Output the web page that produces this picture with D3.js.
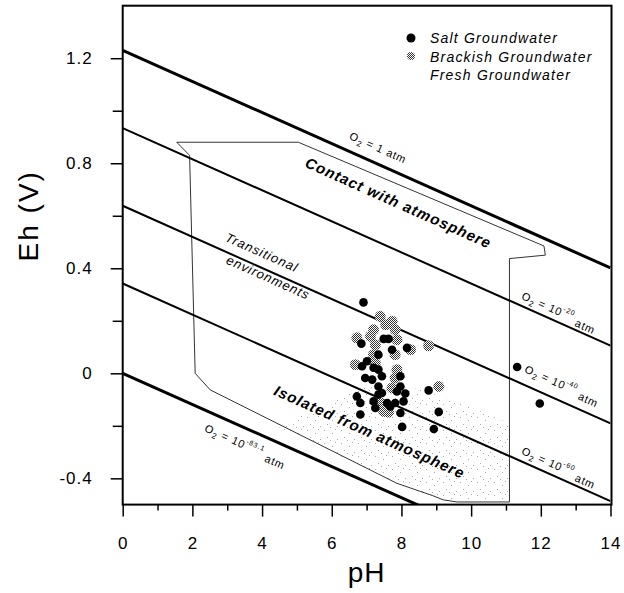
<!DOCTYPE html>
<html>
<head>
<meta charset="utf-8">
<script src="https://cdn.jsdelivr.net/npm/d3@7"></script>
<style>
  body { margin: 0; background: #fff; }
  text { font-family: Arial, "Liberation Sans", sans-serif; fill: #000; }
</style>
</head>
<body>
<svg width="624" height="593"></svg>
<script>
// pH, Eh (V)
const saltGroundwater = [
  [6.91, 0.270], [6.85, 0.113], [7.49, 0.131], [7.63, 0.131], [7.73, 0.090],
  [8.16, 0.097], [7.34, 0.071], [6.87, 0.027], [7.01, 0.046], [7.20, 0.021],
  [7.34, 0.014], [6.96, -0.018], [7.16, -0.024], [7.44, -0.011], [7.97, -0.011],
  [7.34, -0.050], [7.97, -0.050], [7.44, -0.075], [8.11, -0.077], [8.78, -0.065],
  [6.72, -0.088], [6.82, -0.113], [7.20, -0.107], [7.59, -0.113], [7.82, -0.113],
  [8.06, -0.107], [7.25, -0.132], [7.68, -0.126], [6.82, -0.157], [7.97, -0.151],
  [9.07, -0.147], [8.02, -0.204], [8.93, -0.212], [7.87, -0.069], [7.34, -0.081],
  [11.32, 0.024], [11.97, -0.115]
];

const brackishGroundwater = [
  [7.39, 0.217], [7.73, 0.198], [7.20, 0.166], [7.82, 0.166], [6.72, 0.135],
  [7.11, 0.141], [7.87, 0.128], [7.25, 0.109], [8.26, 0.090], [8.78, 0.105],
  [7.20, 0.071], [7.82, 0.071], [6.68, 0.033], [7.25, 0.040], [7.87, 0.014],
  [7.82, -0.018], [7.73, -0.056], [9.07, -0.050], [7.39, -0.113], [7.49, -0.145],
  [7.63, -0.148], [7.55, 0.185]
];

// O2 partial pressure lines: Eh = intercept + slope * pH
const o2Exponents = ['1', '-20', '-40', '-60', '-83.1'];
const o2Intercepts = [1.23, 0.934, 0.638, 0.342, 0.0];
const o2Slope = -0.0592;

// outline of natural-water field
const waterField = [
  [1.55, 0.88], [5.04, 0.88], [12.09, 0.485], [12.13, 0.45], [11.1, 0.437],
  [11.1, -0.49], [9.6, -0.49], [9.2, -0.482], [8.9, -0.466], [7.87, -0.419],
  [2.51, -0.063], [2.08, 0.0], [1.92, 0.83]
];

// stippled fresh groundwater area
const freshArea = [
  [4.4, -0.20], [6.0, -0.11], [7.0, -0.04], [8.5, -0.06], [10.0, -0.13],
  [11.1, -0.19], [11.1, -0.49], [9.6, -0.49], [8.9, -0.466], [7.87, -0.419]
];

const xMajor = [0, 2, 4, 6, 8, 10, 12, 14];
const xMinor = [1, 3, 5, 7, 9, 11, 13];
const yMajor = [-0.4, 0, 0.4, 0.8, 1.2];
const yMinor = [-0.2, 0.2, 0.6, 1.0];

const legendNames = ['Salt Groundwater', 'Brackish Groundwater', 'Fresh Groundwater'];

const svg = d3.select('svg');

const x = d3.scaleLinear().domain([0, 14]).range([122.7, 610.5]);
const y = d3.scaleLinear().domain([-0.5, 1.4]).range([504.6, 5.7]);

const defs = svg.append('defs');

const checker = defs.append('pattern')
    .attr('id', 'checker')
    .attr('patternUnits', 'userSpaceOnUse')
    .attr('width', 2).attr('height', 2);
checker.append('rect').attr('width', 2).attr('height', 2).attr('fill', '#fff');
checker.append('rect').attr('width', 1).attr('height', 1).attr('fill', '#333');
checker.append('rect').attr('x', 1).attr('y', 1).attr('width', 1).attr('height', 1).attr('fill', '#333');

const stipple = defs.append('pattern')
    .attr('id', 'stipple')
    .attr('patternUnits', 'userSpaceOnUse')
    .attr('width', 17).attr('height', 13);
[[1, 1], [9, 4], [14, 10], [4, 8], [12, 0], [7, 11]].forEach(p => {
  stipple.append('rect').attr('x', p[0]).attr('y', p[1])
      .attr('width', 1).attr('height', 1).attr('fill', '#aaa');
});

defs.append('clipPath').attr('id', 'plot')
  .append('rect')
    .attr('x', x(0)).attr('y', y(1.4))
    .attr('width', x(14) - x(0)).attr('height', y(-0.5) - y(1.4));

const line = d3.line().x(d => x(d[0])).y(d => y(d[1]));

// stipple
svg.append('path')
    .attr('d', line(freshArea) + 'Z')
    .attr('fill', 'url(#stipple)');

// field outline
svg.append('path')
    .attr('d', line(waterField) + 'Z')
    .attr('fill', 'none')
    .attr('stroke', '#333')
    .attr('stroke-width', 1);

// O2 lines
const g = svg.append('g').attr('clip-path', 'url(#plot)');
g.selectAll('.o2')
    .data(o2Intercepts)
    .enter()
    .append('path')
        .attr('class', 'o2')
        .attr('d', b => line([[0, b], [14, b + o2Slope * 14]]))
        .attr('stroke', '#000')
        .attr('stroke-width', (b, i) => (i === 0 || i === 4) ? 3 : 2)
        .attr('fill', 'none');

// points
svg.selectAll('.brackish')
    .data(brackishGroundwater)
    .enter()
    .append('circle')
        .attr('class', 'brackish')
        .attr('cx', d => x(d[0]))
        .attr('cy', d => y(d[1]))
        .attr('r', 5.5)
        .attr('fill', 'url(#checker)');

svg.selectAll('.salt')
    .data(saltGroundwater)
    .enter()
    .append('circle')
        .attr('class', 'salt')
        .attr('cx', d => x(d[0]))
        .attr('cy', d => y(d[1]))
        .attr('r', 4.3)
        .attr('fill', '#000');

// axes
const fmt = d => d === 0 ? '0' : d.toFixed(1);

svg.append('g')
    .attr('transform', `translate(0,${y(-0.5)})`)
    .call(d3.axisBottom(x).tickValues(xMajor).tickSize(12).tickPadding(20).tickFormat(d => d))
    .call(a => a.select('.domain').remove())
    .call(a => a.selectAll('line').attr('stroke-width', 1.5))
    .call(a => a.selectAll('text').attr('font-size', 17).attr('letter-spacing', 1));

svg.append('g')
    .attr('transform', `translate(0,${y(-0.5)})`)
    .call(d3.axisBottom(x).tickValues(xMinor).tickSize(6).tickFormat(''))
    .call(a => a.select('.domain').remove())
    .call(a => a.selectAll('line').attr('stroke-width', 1.5));

svg.append('g')
    .attr('transform', `translate(${x(0)},0)`)
    .call(d3.axisLeft(y).tickValues(yMajor).tickSize(12).tickPadding(18).tickFormat(fmt))
    .call(a => a.select('.domain').remove())
    .call(a => a.selectAll('line').attr('stroke-width', 1.5))
    .call(a => a.selectAll('text').attr('font-size', 17).attr('letter-spacing', 1));

svg.append('g')
    .attr('transform', `translate(${x(0)},0)`)
    .call(d3.axisLeft(y).tickValues(yMinor).tickSize(10).tickFormat(''))
    .call(a => a.select('.domain').remove())
    .call(a => a.selectAll('line').attr('stroke-width', 1.5));

svg.append('rect')
    .attr('x', x(0)).attr('y', y(1.4))
    .attr('width', x(14) - x(0) + 1).attr('height', y(-0.5) - y(1.4))
    .attr('fill', 'none')
    .attr('stroke', '#000')
    .attr('stroke-width', 2);

svg.append('text')
    .attr('x', x(7)).attr('y', 582)
    .attr('text-anchor', 'middle')
    .attr('font-size', 28)
    .attr('letter-spacing', 1)
    .text('pH');

svg.append('text')
    .attr('transform', `translate(38,${y(0.6)}) rotate(-90)`)
    .attr('text-anchor', 'middle')
    .attr('font-size', 28)
    .attr('letter-spacing', 2)
    .text('Eh (V)');

// O2 labels
const angle = Math.atan(-o2Slope * (y(0) - y(1)) / (x(1) - x(0))) * 180 / Math.PI;
const o2LabelAt = [[6.53, 0.907], [11.47, 0.298], [11.56, 0.019], [11.47, -0.292], [2.37, -0.206]];

o2Exponents.forEach((e, i) => {
  const p = o2LabelAt[i];
  const t = svg.append('text')
      .attr('transform', `translate(${x(p[0])},${y(p[1])}) rotate(${angle})`)
      .attr('y', 4)
      .attr('font-size', 11)
      .attr('letter-spacing', 0.8);
  t.append('tspan').text('O');
  t.append('tspan').attr('font-size', 8).attr('dy', 3).text('2');
  if (e === '1') {
    t.append('tspan').attr('dy', -3).text(' = 1 atm');
  } else {
    t.append('tspan').attr('dy', -3).text(' = 10');
    t.append('tspan').attr('font-size', 7).attr('dy', -6).text(e);
    t.append('tspan').attr('dy', 9).text(' atm');
  }
});

// region labels
const regionLabels = [
  { text: 'Contact with atmosphere', at: [7.91, 0.648], size: 15, weight: 'bold' },
  { text: 'Transitional', at: [4.0, 0.462], size: 13, weight: 'normal' },
  { text: 'environments', at: [4.18, 0.367], size: 13, weight: 'normal' },
  { text: 'Isolated from atmosphere', at: [7.08, -0.224], size: 15, weight: 'bold' }
];

svg.selectAll('.region')
    .data(regionLabels)
    .enter()
    .append('text')
        .attr('class', 'region')
        .attr('transform', d => `translate(${x(d.at[0])},${y(d.at[1])}) rotate(${angle})`)
        .attr('y', 5)
        .attr('text-anchor', 'middle')
        .attr('font-size', d => d.size)
        .attr('font-weight', d => d.weight)
        .attr('font-style', 'italic')
        .attr('letter-spacing', 1)
        .text(d => d.text);

// legend
const legend = svg.append('g').attr('transform', 'translate(411,38)');
legend.append('circle').attr('r', 4.5).attr('fill', '#000');
legend.append('circle').attr('cy', 18).attr('r', 4).attr('fill', 'url(#checker)');
legend.selectAll('text')
    .data(legendNames)
    .enter()
    .append('text')
        .attr('x', 19)
        .attr('y', (d, i) => i * 18.5 + 5)
        .attr('font-size', 14)
        .attr('font-style', 'italic')
        .attr('letter-spacing', 1.2)
        .text(d => d);
</script>
</body>
</html>
